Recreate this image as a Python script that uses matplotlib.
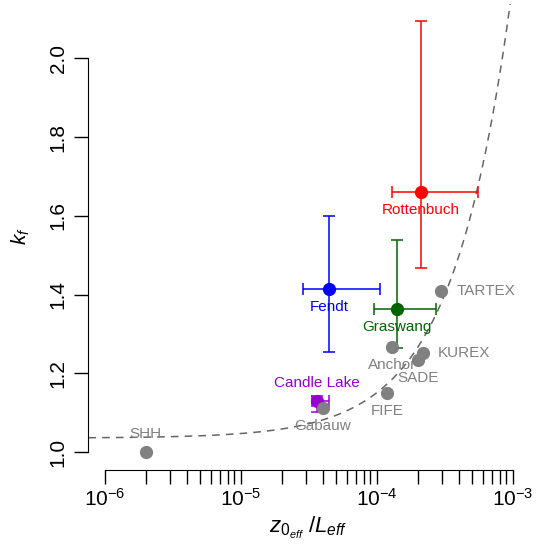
import numpy as np
import matplotlib
matplotlib.use("Agg")
import matplotlib.pyplot as plt
from matplotlib.ticker import FixedLocator, NullFormatter

plt.rcParams['font.family'] = ['Liberation Sans', 'DejaVu Sans']
plt.rcParams['mathtext.fontset'] = 'custom'
plt.rcParams['mathtext.rm'] = 'Liberation Sans'
plt.rcParams['mathtext.it'] = 'Liberation Sans:italic'

# sites without error bars (grey)
grey_sites = ["SHH", "Gabauw", "FIFE", "Anchor", "SADE", "KUREX", "TARTEX"]
grey_x = [2.0e-6, 4.0e-5, 1.2e-4, 1.3e-4, 2.0e-4, 2.18e-4, 2.97e-4]
grey_k = [1.0, 1.113, 1.151, 1.268, 1.234, 1.253, 1.410]
grey_pos = ["above", "below", "below", "below", "below", "right", "right"]

# sites with error bars
err_sites = ["Fendt", "Graswang", "Rottenbuch", "Candle Lake"]
err_x = [4.48e-5, 1.40e-4, 2.11e-4, 3.62e-5]
err_x_lo = [2.86e-5, 9.55e-5, 1.30e-4, 3.33e-5]
err_x_hi = [1.06e-4, 2.73e-4, 5.53e-4, 4.46e-5]
err_k = [1.414, 1.363, 1.661, 1.130]
err_k_lo = [1.255, 1.264, 1.467, 1.103]
err_k_hi = [1.600, 1.539, 2.095, 1.143]
err_cols = ["#0000FF", "#006400", "#FF0000", "#9400D3"]
err_pos = ["below", "below", "below", "above"]

# fitted line k = a + b*x
fit_a = 1.036
fit_b = 1150.0

grey = "#808080"

fig = plt.figure(figsize=(5.38, 5.47), dpi=100)
ax = fig.add_axes([88.4/538, 1-469.6/547, (529-88.4)/538, (469.6-3.5)/547])

xx = np.logspace(-6.12, -2.88, 400)
ax.plot(xx, fit_a + fit_b*xx, ls=(0, (5, 4)), color="#666666", lw=1.1, zorder=1)

offs = {"below": (0, -13), "above": (0, 13), "right": (11, 0)}
ha = {"below": "center", "above": "center", "right": "left"}

for i in range(len(err_sites)):
    ax.errorbar(err_x[i], err_k[i],
                xerr=[[err_x[i]-err_x_lo[i]], [err_x_hi[i]-err_x[i]]],
                yerr=[[err_k[i]-err_k_lo[i]], [err_k_hi[i]-err_k[i]]],
                fmt="o", color=err_cols[i], ms=8.5, elinewidth=1.1,
                capsize=4, capthick=1.1, zorder=2)
    ax.annotate(err_sites[i], (err_x[i], err_k[i]), xytext=offs[err_pos[i]],
                textcoords="offset points", ha=ha[err_pos[i]], va="center",
                color=err_cols[i], fontsize=11, zorder=4)

ax.plot(grey_x, grey_k, "o", color=grey, ms=8.5, ls="none", zorder=3)
for i in range(len(grey_sites)):
    ax.annotate(grey_sites[i], (grey_x[i], grey_k[i]), xytext=offs[grey_pos[i]],
                textcoords="offset points", ha=ha[grey_pos[i]], va="center",
                color=grey, fontsize=11, zorder=4)

ax.set_xscale("log")
ax.set_xlim(10**-6.12, 10**-2.88)
ax.set_ylim(0.956, 2.139)

ax.spines["top"].set_visible(False)
ax.spines["right"].set_visible(False)
ax.spines["left"].set_bounds(1.0, 2.0)
ax.spines["bottom"].set_bounds(1e-6, 1e-3)

ax.xaxis.set_major_locator(FixedLocator([1e-6, 1e-5, 1e-4, 1e-3]))
minors = [m * 10.0**e for e in (-6, -5, -4) for m in range(2, 10)]
ax.xaxis.set_minor_locator(FixedLocator(minors))
ax.xaxis.set_minor_formatter(NullFormatter())
ax.set_yticks([1.0, 1.2, 1.4, 1.6, 1.8, 2.0])
ax.set_yticklabels(["1.0", "1.2", "1.4", "1.6", "1.8", "2.0"], rotation=90, va="center")

ax.tick_params(axis="both", which="both", length=10, width=1.0, labelsize=15)
ax.tick_params(axis="x", which="major", pad=3)
ax.tick_params(axis="y", which="major", pad=5)

ax.set_xlabel(r"$z_{0_{eff}}\ /L_{eff}$", fontsize=16, labelpad=4)
ax.set_ylabel(r"$k_f$", fontsize=15, labelpad=12)

fig.savefig("out.png", dpi=100)
